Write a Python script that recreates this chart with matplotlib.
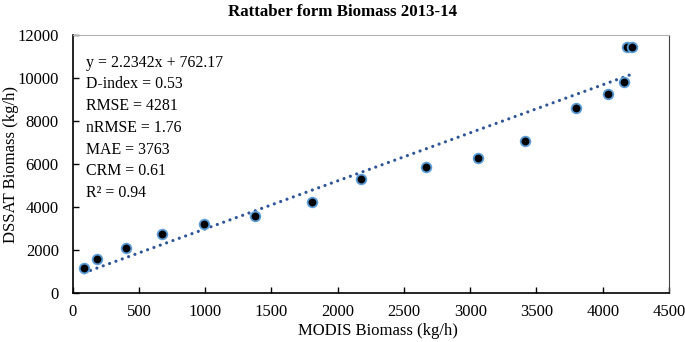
import numpy as np
import matplotlib.pyplot as plt

plt.rcParams['font.family'] = ['Liberation Serif', 'DejaVu Serif']

# MODIS vs DSSAT biomass (kg/h)
modis = [87, 183, 403, 676, 989, 1377, 1807, 2173, 2665, 3059, 3415, 3799, 4042, 4158, 4180, 4223]
dssat = [1163, 1609, 2093, 2771, 3236, 3594, 4245, 5315, 5873, 6291, 7096, 8603, 9281, 9825, 11453, 11453]

slope = 2.2342
intercept = 762.17

stats = ['y = 2.2342x + 762.17', 'D-index = 0.53', 'RMSE = 4281', 'nRMSE = 1.76',
         'MAE = 3763', 'CRM = 0.61', 'R\u00b2 = 0.94']

fig = plt.figure(figsize=(6.85, 3.42), dpi=100)
ax = fig.add_axes([0.1061, 0.1424, 0.8705, 0.7544])

# trend line over the data range
xs = np.array([min(modis), max(modis)])
ax.plot(xs, slope * xs + intercept, linestyle=(0, (0.01, 2.1)), color='#2f5597', linewidth=2.3,
        dash_capstyle='round', zorder=2)
ax.scatter(modis, dssat, s=48, color='black', edgecolors='#5b9bd5', linewidths=1.3, zorder=3)

ax.set_xlim(0, 4500)
ax.set_ylim(0, 12000)
ax.set_xticks(np.arange(0, 4501, 500))
ax.set_yticks(np.arange(0, 12001, 2000))
ax.tick_params(direction='in', labelsize=12, length=4, width=1)
ax.tick_params(axis='x', pad=8)
ax.tick_params(axis='y', pad=10)
ax.set_xlabel('MODIS Biomass (kg/h)', fontsize=12)
ax.xaxis.set_label_coords(0.512, -0.115)
ax.set_ylabel('DSSAT Biomass (kg/h)', fontsize=12)
ax.yaxis.set_label_coords(-0.09, 0.5)

ax.spines['top'].set_color('#b0b0b0')
ax.spines['right'].set_color('#404040')
for s in ['left', 'bottom']:
    ax.spines[s].set_linewidth(1.2)

ax.text(0.023, 0.925, '\n'.join(stats), transform=ax.transAxes, fontsize=11.4,
        va='top', ha='left', linespacing=1.48)

fig.text(0.5, 0.965, 'Rattaber form Biomass 2013-14', ha='center', va='center',
         fontsize=12.2, fontweight='bold')

fig.savefig('out.png', dpi=100)
